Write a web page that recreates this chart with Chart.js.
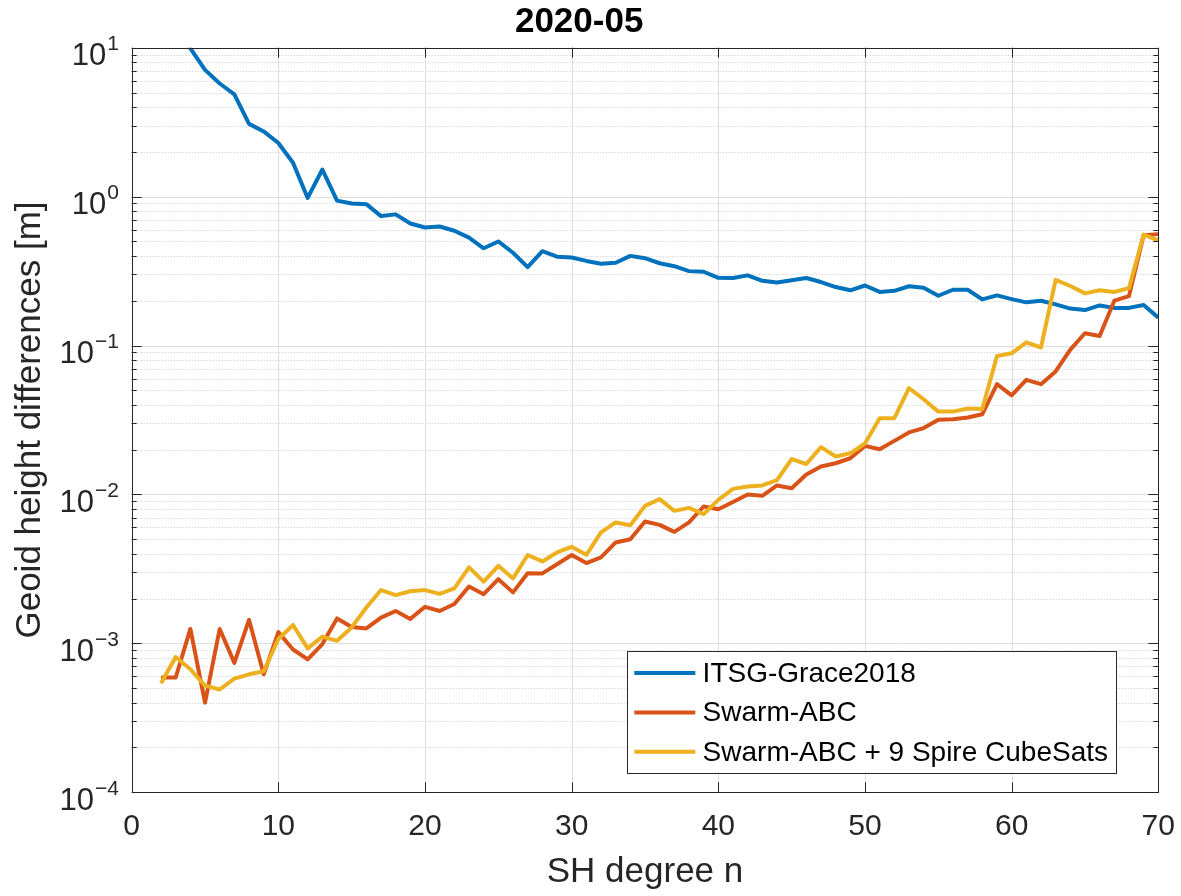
<!DOCTYPE html>
<html lang="en">

<head>
    <meta charset="UTF-8">
    <meta name="viewport" content="width=device-width, initial-scale=1.0">
    <title>Geoid height differences 2020-05</title>
    <script src="https://cdn.jsdelivr.net/npm/chart.js@4.4.1/dist/chart.umd.min.js"></script>
    <style>
        html, body {
            margin: 0;
            padding: 0;
            background-color: #ffffff;
        }

        .chart-container {
            width: 1181px;
            height: 896px;
        }
    </style>
</head>

<body>
    <div class="chart-container">
        <canvas id="myChart"></canvas>
    </div>

    <script>
        // SH degree n
        const degrees = [2, 3, 4, 5, 6, 7, 8, 9, 10, 11, 12, 13, 14, 15, 16, 17, 18, 19, 20,
            21, 22, 23, 24, 25, 26, 27, 28, 29, 30, 31, 32, 33, 34, 35, 36, 37, 38, 39, 40,
            41, 42, 43, 44, 45, 46, 47, 48, 49, 50, 51, 52, 53, 54, 55, 56, 57, 58, 59, 60,
            61, 62, 63, 64, 65, 66, 67, 68, 69, 70];

        // geoid height differences [m]
        const itsgGrace2018 = [22, 14.5, 9.9, 7.1, 5.75, 4.86, 3.08, 2.74, 2.29, 1.69, 0.98, 1.52, 0.94, 0.90, 0.89,
            0.74, 0.76, 0.66, 0.62, 0.63, 0.59, 0.53, 0.45, 0.50, 0.42, 0.336, 0.43, 0.395, 0.39,
            0.37, 0.354, 0.36, 0.40, 0.386, 0.357, 0.341, 0.316, 0.313, 0.285, 0.284, 0.296, 0.272,
            0.265, 0.274, 0.284, 0.267, 0.247, 0.235, 0.253, 0.229, 0.233, 0.25, 0.244, 0.216,
            0.237, 0.237, 0.204, 0.217, 0.205, 0.195, 0.20, 0.189, 0.177, 0.173, 0.186, 0.179,
            0.179, 0.187, 0.154];

        const swarmABC = [5.9e-4, 5.9e-4, 1.25e-3, 4.0e-4, 1.25e-3, 7.4e-4, 1.44e-3, 6.2e-4, 1.19e-3, 9.1e-4,
            7.8e-4, 9.9e-4, 1.47e-3, 1.29e-3, 1.26e-3, 1.49e-3, 1.65e-3, 1.46e-3, 1.76e-3, 1.65e-3,
            1.84e-3, 2.41e-3, 2.14e-3, 2.7e-3, 2.2e-3, 2.96e-3, 2.95e-3, 3.4e-3, 3.92e-3, 3.46e-3,
            3.78e-3, 4.76e-3, 5.0e-3, 6.59e-3, 6.25e-3, 5.61e-3, 6.49e-3, 8.3e-3, 7.96e-3, 8.9e-3,
            1.0e-2, 9.8e-3, 1.15e-2, 1.1e-2, 1.36e-2, 1.54e-2, 1.62e-2, 1.75e-2, 2.12e-2, 2.01e-2,
            2.29e-2, 2.61e-2, 2.79e-2, 3.17e-2, 3.2e-2, 3.29e-2, 3.46e-2, 5.5e-2, 4.63e-2, 5.88e-2,
            5.5e-2, 6.7e-2, 9.4e-2, 0.121, 0.116, 0.2, 0.215, 0.55, 0.56];

        const swarmSpire = [5.4e-4, 8.1e-4, 6.7e-4, 5.2e-4, 4.9e-4, 5.8e-4, 6.2e-4, 6.5e-4, 1.07e-3, 1.33e-3,
            9.25e-4, 1.11e-3, 1.04e-3, 1.28e-3, 1.74e-3, 2.28e-3, 2.11e-3, 2.24e-3, 2.28e-3, 2.15e-3,
            2.34e-3, 3.24e-3, 2.6e-3, 3.32e-3, 2.73e-3, 3.92e-3, 3.55e-3, 4.08e-3, 4.45e-3, 3.93e-3,
            5.56e-3, 6.49e-3, 6.22e-3, 8.38e-3, 9.3e-3, 7.76e-3, 8.13e-3, 7.38e-3, 9.2e-3, 1.09e-2,
            1.13e-2, 1.15e-2, 1.25e-2, 1.73e-2, 1.6e-2, 2.08e-2, 1.8e-2, 1.89e-2, 2.2e-2, 3.25e-2,
            3.25e-2, 5.17e-2, 4.36e-2, 3.6e-2, 3.6e-2, 3.78e-2, 3.75e-2, 8.5e-2, 8.87e-2, 0.105,
            0.097, 0.276, 0.251, 0.224, 0.235, 0.229, 0.243, 0.556, 0.508];

        const seriesNames = ['ITSG-Grace2018', 'Swarm-ABC', 'Swarm-ABC + 9 Spire CubeSats'];
        const xTicks = [0, 10, 20, 30, 40, 50, 60, 70];
        const yTickExponents = [-4, -3, -2, -1, 0, 1];

        const fontFamily = "'Liberation Sans', Arial, Helvetica, sans-serif";
        const axisColor = '#262626';

        const toPoints = values => degrees.map((n, i) => ({ x: n, y: values[i] }));

        // MATLAB look: dotted minor grid, box with inward ticks, 10^k labels, legend inside axes
        const matlabAxes = {
            id: 'matlabAxes',
            beforeDatasetsDraw(chart) {
                const { ctx, chartArea: a, scales: { x, y } } = chart;
                ctx.save();
                ctx.lineWidth = 1;

                ctx.strokeStyle = '#c6c6c6';
                ctx.setLineDash([1, 2]);
                for (let k = yTickExponents[0]; k < yTickExponents[yTickExponents.length - 1]; k++) {
                    for (let m = 2; m <= 9; m++) {
                        const py = Math.round(y.getPixelForValue(m * Math.pow(10, k))) + 0.5;
                        ctx.beginPath();
                        ctx.moveTo(a.left, py);
                        ctx.lineTo(a.right, py);
                        ctx.stroke();
                    }
                }

                ctx.setLineDash([]);
                ctx.strokeStyle = '#dedede';
                yTickExponents.forEach(k => {
                    const py = Math.round(y.getPixelForValue(Math.pow(10, k))) + 0.5;
                    ctx.beginPath();
                    ctx.moveTo(a.left, py);
                    ctx.lineTo(a.right, py);
                    ctx.stroke();
                });
                xTicks.forEach(v => {
                    const px = Math.round(x.getPixelForValue(v)) + 0.5;
                    ctx.beginPath();
                    ctx.moveTo(px, a.top);
                    ctx.lineTo(px, a.bottom);
                    ctx.stroke();
                });
                ctx.restore();
            },
            afterDatasetsDraw(chart) {
                const { ctx, chartArea: a, scales: { x, y } } = chart;
                ctx.save();
                ctx.strokeStyle = axisColor;
                ctx.lineWidth = 1;
                ctx.strokeRect(Math.round(a.left) + 0.5, Math.round(a.top) + 0.5,
                    Math.round(a.right) - Math.round(a.left), Math.round(a.bottom) - Math.round(a.top));

                // ticks pointing inward
                ctx.beginPath();
                xTicks.forEach(v => {
                    const px = Math.round(x.getPixelForValue(v)) + 0.5;
                    ctx.moveTo(px, a.bottom);
                    ctx.lineTo(px, a.bottom - 10);
                    ctx.moveTo(px, a.top);
                    ctx.lineTo(px, a.top + 10);
                });
                for (let k = yTickExponents[0]; k <= yTickExponents[yTickExponents.length - 1]; k++) {
                    for (let m = 1; m <= 9; m++) {
                        if (k === yTickExponents[yTickExponents.length - 1] && m > 1) break;
                        const len = m === 1 ? 10 : 5;
                        const py = Math.round(y.getPixelForValue(m * Math.pow(10, k))) + 0.5;
                        ctx.moveTo(a.left, py);
                        ctx.lineTo(a.left + len, py);
                        ctx.moveTo(a.right, py);
                        ctx.lineTo(a.right - len, py);
                    }
                }
                ctx.stroke();

                // y tick labels 10^k
                ctx.fillStyle = axisColor;
                ctx.textAlign = 'left';
                ctx.textBaseline = 'alphabetic';
                yTickExponents.forEach(k => {
                    const py = y.getPixelForValue(Math.pow(10, k));
                    const exp = k < 0 ? '\u2212' + (-k) : String(k);
                    ctx.font = '21px ' + fontFamily;
                    const we = ctx.measureText(exp).width;
                    ctx.font = '31px ' + fontFamily;
                    const wb = ctx.measureText('10').width;
                    const xr = a.left - 12.7;
                    ctx.fillText('10', xr - we - 1 - wb, py + 17.6);
                    ctx.font = '21px ' + fontFamily;
                    ctx.fillText(exp, xr - we, py + 2.4);
                });

                // legend box, lower right inside the axes
                ctx.font = '28px ' + fontFamily;
                const maxW = Math.max(...chart.data.datasets.map(d => ctx.measureText(d.label).width));
                const boxRight = a.right - 42.3;
                const boxBottom = a.bottom - 19.6;
                const boxLeft = boxRight - 8 - maxW - 75.7;
                const boxTop = boxBottom - 122;
                ctx.fillStyle = '#ffffff';
                ctx.fillRect(boxLeft, boxTop, boxRight - boxLeft, boxBottom - boxTop);
                ctx.strokeStyle = axisColor;
                ctx.strokeRect(Math.round(boxLeft) + 0.5, Math.round(boxTop) + 0.5,
                    Math.round(boxRight - boxLeft), Math.round(boxBottom - boxTop));
                ctx.textBaseline = 'middle';
                chart.data.datasets.forEach((d, i) => {
                    const ry = boxTop + 22.3 + i * 39.4;
                    ctx.strokeStyle = d.borderColor;
                    ctx.lineWidth = 4;
                    ctx.beginPath();
                    ctx.moveTo(boxLeft + 7.4, ry);
                    ctx.lineTo(boxLeft + 68.4, ry);
                    ctx.stroke();
                    ctx.fillStyle = '#000000';
                    ctx.fillText(d.label, boxLeft + 75.7, ry + 1);
                });
                ctx.restore();
            }
        };

        const data = {
            datasets: [{
                    label: seriesNames[0],
                    data: toPoints(itsgGrace2018),
                    borderColor: '#0072BD',
                    order: 2
                },
                {
                    label: seriesNames[1],
                    data: toPoints(swarmABC),
                    borderColor: '#D95319',
                    order: 1
                },
                {
                    label: seriesNames[2],
                    data: toPoints(swarmSpire),
                    borderColor: '#EDB120',
                    order: 0
                }
            ]
        };
        data.datasets.forEach(d => {
            d.borderWidth = 4;
            d.pointRadius = 0;
            d.tension = 0;
            d.fill = false;
            d.clip = 0;
            d.borderJoinStyle = 'round';
        });

        Chart.defaults.font.family = fontFamily;

        const config = {
            type: 'line',
            data,
            options: {
                responsive: true,
                maintainAspectRatio: false,
                animation: false,
                layout: {
                    padding: { left: 0, right: 22.7, top: 0, bottom: 0 }
                },
                scales: {
                    x: {
                        type: 'linear',
                        min: 0,
                        max: 70,
                        grid: { display: false, drawTicks: false },
                        border: { display: false },
                        afterBuildTicks: scale => {
                            scale.ticks = xTicks.map(v => ({ value: v }));
                        },
                        afterFit: scale => {
                            scale.height = 103.7;
                        },
                        ticks: {
                            color: axisColor,
                            padding: 0,
                            maxRotation: 0,
                            autoSkip: false,
                            // tall line box pushes the labels down without widening the side padding
                            font: { size: 30, lineHeight: 68.8 / 30 }
                        },
                        title: {
                            display: true,
                            text: 'SH degree n',
                            color: axisColor,
                            font: { size: 35, lineHeight: 1.2 },
                            padding: { top: 0, bottom: 2.5 }
                        }
                    },
                    y: {
                        type: 'logarithmic',
                        min: 1e-4,
                        max: 10,
                        grid: { display: false, drawTicks: false },
                        border: { display: false },
                        ticks: { display: false },
                        afterFit: scale => {
                            scale.width = 131.7;
                        },
                        title: {
                            display: true,
                            text: 'Geoid height differences [m]',
                            color: axisColor,
                            font: { size: 35, lineHeight: 1.2 },
                            padding: { top: 9, bottom: 0 }
                        }
                    }
                },
                plugins: {
                    title: {
                        display: true,
                        text: '2020-05',
                        color: '#000000',
                        font: { size: 35, weight: 'bold', lineHeight: 1.2 },
                        padding: { top: 1.5, bottom: 4.2 }
                    },
                    legend: { display: false },
                    tooltip: { enabled: false }
                }
            },
            plugins: [matlabAxes]
        };

        const ctx = document.getElementById('myChart').getContext('2d');
        const myChart = new Chart(ctx, config);
    </script>

</body>

</html>
